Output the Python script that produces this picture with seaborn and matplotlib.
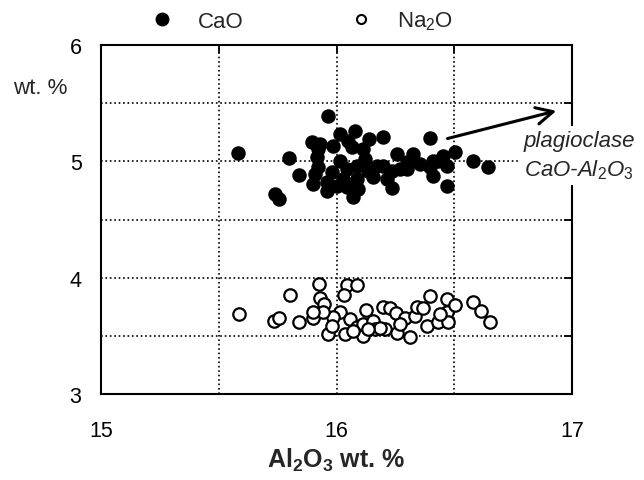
import matplotlib
import matplotlib.pyplot as plt
import numpy as np
import pandas as pd
import seaborn as sns
from matplotlib.lines import Line2D
from matplotlib.ticker import MultipleLocator

matplotlib.use('Agg')

# CaO (filled) vs Al2O3
cao_al = [15.963, 15.583, 15.800, 15.842, 15.739, 15.757, 15.895, 15.930, 15.916, 15.923,
          15.900, 15.958, 15.986, 16.015, 16.079, 16.050, 16.065, 16.015, 16.043, 16.029,
          16.043, 16.071, 16.086, 16.114, 16.139, 16.121, 16.135, 16.157, 16.196, 16.199,
          16.234, 16.256, 16.234, 16.270, 16.298, 16.326, 16.355, 16.397, 16.397, 16.411,
          16.432, 16.454, 16.468, 16.503, 16.468, 16.580, 16.645, 15.958, 15.980, 16.086,
          16.093, 16.171, 16.213, 16.298, 15.923, 16.000, 15.909, 16.411]
cao = [5.387, 5.071, 5.026, 4.882, 4.720, 4.680, 5.163, 5.149, 5.034, 4.948,
       4.805, 4.747, 5.134, 5.235, 5.263, 5.177, 5.120, 5.005, 4.934, 4.848,
       4.776, 4.690, 4.848, 5.106, 5.190, 5.020, 4.920, 4.862, 5.206, 4.962,
       4.768, 5.063, 4.920, 4.934, 4.991, 5.063, 4.977, 5.198, 4.948, 4.876,
       5.005, 5.048, 4.962, 5.083, 4.785, 5.005, 4.948, 4.820, 4.905, 4.962,
       4.762, 4.962, 4.848, 4.934, 5.106, 4.790, 4.890, 5.005]

# Na2O (open) vs Al2O3
na_al = [15.587, 15.735, 15.757, 15.803, 15.842, 15.927, 16.043, 16.086, 16.033, 15.930,
         15.947, 15.900, 15.965, 16.036, 16.015, 16.057, 16.086, 16.114, 16.125, 16.114,
         16.199, 16.227, 16.253, 16.206, 16.256, 16.312, 16.290, 16.333, 16.340, 16.369,
         16.397, 16.383, 16.432, 16.468, 16.471, 16.503, 16.475, 16.580, 16.612, 16.652,
         15.986, 15.979, 16.157, 16.164, 16.185, 15.944, 16.071, 16.270, 16.440, 15.900,
         16.135]
na2o = [3.687, 3.630, 3.650, 3.850, 3.616, 3.945, 3.936, 3.936, 3.850, 3.822,
        3.773, 3.650, 3.515, 3.515, 3.702, 3.644, 3.573, 3.501, 3.724, 3.601,
        3.745, 3.736, 3.696, 3.558, 3.524, 3.487, 3.650, 3.673, 3.745, 3.736,
        3.839, 3.581, 3.621, 3.816, 3.707, 3.764, 3.621, 3.793, 3.716, 3.616,
        3.659, 3.587, 3.627, 3.561, 3.570, 3.702, 3.544, 3.601, 3.687, 3.702,
        3.558]

sns.set_style('white')
plt.rcParams['font.family'] = ['Liberation Sans', 'DejaVu Sans']
plt.rcParams['mathtext.fontset'] = 'custom'
plt.rcParams['mathtext.rm'] = 'Liberation Sans'
plt.rcParams['mathtext.it'] = 'Liberation Sans:italic'
plt.rcParams['mathtext.bf'] = 'Liberation Sans:bold'

fig = plt.figure(figsize=(6.44, 4.81), dpi=100)
ax = fig.add_axes([101 / 644, 1 - 395 / 481, 471 / 644, 349 / 481])

df_ca = pd.DataFrame({'al': cao_al, 'v': cao})
df_na = pd.DataFrame({'al': na_al, 'v': na2o})
sns.scatterplot(data=df_ca, x='al', y='v', ax=ax, s=85, color='black',
                edgecolor='black', linewidth=1.2, zorder=3)
sns.scatterplot(data=df_na, x='al', y='v', ax=ax, s=80, color='white',
                edgecolor='black', linewidth=1.6, zorder=3)

ax.set_xlim(15, 17)
ax.set_ylim(3, 6)
ax.xaxis.set_major_locator(MultipleLocator(1))
ax.xaxis.set_minor_locator(MultipleLocator(0.5))
ax.yaxis.set_major_locator(MultipleLocator(1))
ax.yaxis.set_minor_locator(MultipleLocator(0.5))
ax.tick_params(which='both', direction='in', top=True, right=True,
               length=6, width=1.3, labelsize=15.5, colors='black')
ax.tick_params(axis='x', pad=19)
ax.tick_params(axis='y', pad=14)
ax.grid(which='both', linestyle=':', color='black', linewidth=1.2)
for sp in ax.spines.values():
    sp.set_linewidth(1.5)
    sp.set_color('black')

ax.set_xlabel(r'Al$_\mathbf{2}$O$_\mathbf{3}$ wt. %', fontsize=18,
              fontweight='bold', labelpad=3)
ax.set_ylabel('')
fig.text(40 / 644, 1 - 88 / 481, 'wt. %', fontsize=16, ha='center', va='center')

# arrow + plagioclase label
ax.annotate('', xy=(16.945, 5.44), xytext=(16.46, 5.19),
            arrowprops=dict(arrowstyle='->', lw=2.2, color='black',
                            mutation_scale=30), annotation_clip=False)
ax.text(17.03, 5.05, 'plagioclase\nCaO-Al$_\\mathit{2}$O$_\\mathit{3}$',
        fontsize=16, style='italic', ha='center', va='center',
        linespacing=1.35, clip_on=False, zorder=5,
        bbox=dict(facecolor='white', edgecolor='none', pad=3))

handles = [Line2D([], [], marker='o', ls='', color='black', markersize=9),
           Line2D([], [], marker='o', ls='', markerfacecolor='white',
                  markeredgecolor='black', markeredgewidth=1.5, markersize=6.5)]
ax.legend(handles, ['CaO', 'Na$_2$O'], ncol=2, frameon=False, fontsize=16,
          loc='center left', bbox_to_anchor=(151 / 644, 1 - 22 / 481),
          bbox_transform=fig.transFigure, borderpad=0, borderaxespad=0,
          handlelength=1.0, handletextpad=1.1, columnspacing=4.8)

fig.savefig('out.png', dpi=100)
plt.close(fig)
